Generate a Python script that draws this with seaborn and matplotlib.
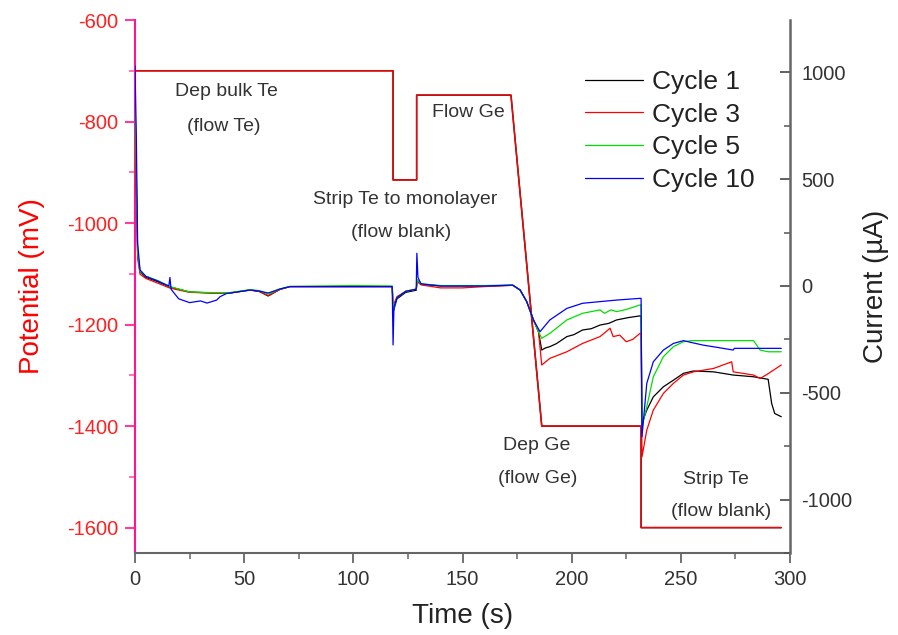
import numpy as np
import pandas as pd
import matplotlib
matplotlib.use("Agg")
import matplotlib.pyplot as plt
import seaborn as sns
from matplotlib.ticker import MultipleLocator

# ---------------- data ----------------
# Applied potential program (mV) vs time (s)
pot_time = [0, 118.2, 118.2, 129.0, 129.0, 172.2, 186.3, 231.8, 231.8, 296.0]
pot_mv = [-700, -700, -915, -915, -748, -748, -1400, -1400, -1600, -1600]

# Current (uA) vs time (s) for each cycle
c1_t = [0, 0.6, 1.2, 2.3, 5, 10, 16, 25, 35, 43.5, 52.7, 57, 61, 66.4, 71, 100, 117.8,
        118.3, 120, 124, 128.8, 129.3, 131, 140, 160, 173, 176.4, 179.4, 182.5, 184.8,
        186.3, 188, 190, 193, 197.8, 201, 205, 209, 213, 217, 220.6, 226, 231.3, 231.8,
        232.2, 234.4, 237.4, 242, 246.6, 251.2, 255.8, 265, 274, 283.3, 290, 291.6, 293, 296]
c1_i = [880, 500, 150, 67, 40, 22, -5, -28, -33, -33, -19, -26, -47, -16, -3, -3, -3,
        -120, -60, -30, -20, 25, 8, 0, 0, 3, -19, -73, -159, -214,
        -300, -290, -284, -270, -237, -228, -206, -200, -183, -175, -159, -148, -140, -140,
        -642, -581, -519, -472, -441, -409, -398, -402, -417, -425, -437, -550, -597, -612]

c3_t = [0, 0.6, 1.2, 2.3, 5, 10, 16, 25, 35, 43.5, 52.7, 57, 61, 66.4, 71, 100, 117.8,
        118.3, 120, 124, 128.8, 129.3, 131, 140, 150, 160, 173, 176.4, 179.4, 182.5, 184.8,
        186.3, 190, 197.8, 205, 213, 217.6, 219, 222, 225, 228, 231.3, 231.8,
        232.2, 234.4, 237.4, 242, 246.6, 251.2, 255.8, 265, 273.3, 274, 279, 283.3, 286.3,
        289.3, 296]
c3_i = [850, 450, 130, 55, 35, 15, -10, -30, -33, -33, -19, -26, -45, -16, -3, -3, -3,
        -90, -50, -25, -15, 20, 5, -9, -9, -3, 3, -19, -73, -159, -214,
        -370, -339, -308, -269, -237, -198, -237, -230, -261, -250, -222, -222,
        -800, -675, -581, -503, -456, -417, -402, -386, -355, -402, -410, -417, -433,
        -415, -370]

c5_t = [0, 0.6, 1.2, 2.3, 5, 10, 16, 25, 35, 43.5, 52.7, 57, 61, 66.4, 71, 100, 117.8,
        118.3, 120, 124, 128.8, 129.3, 131, 140, 160, 173, 176.4, 179.4, 182.5, 184.8,
        186.3, 190, 197.8, 205, 213, 215, 218, 220.6, 225, 231.3, 231.8,
        232.2, 234.4, 237.4, 242, 246.6, 251.2, 255, 283.3, 286.3, 290, 296]
c5_i = [900, 550, 160, 70, 45, 27, -3, -28, -31, -31, -17, -22, -38, -14, -2, 2, 0,
        -110, -55, -25, -15, 30, 10, 2, 2, 4, -19, -73, -159, -214,
        -245, -222, -159, -128, -112, -128, -112, -120, -110, -89, -89,
        -660, -565, -425, -331, -284, -261, -256, -256, -300, -308, -308]

c10_t = [0, 0.6, 1.2, 2.3, 5, 10, 15.5, 16, 16.5, 20, 25, 30, 33, 37.4, 39, 42, 43.5,
         52.7, 57, 61, 66.4, 71, 100, 117.8, 118.2, 118.6, 120, 124, 128.8, 129.1, 129.6,
         131, 140, 160, 173, 176.4, 179.4, 182.5, 185.5, 190, 197.8, 205, 220.6, 231.3,
         231.8, 232.2, 234.4, 237.4, 242, 246.6, 251.2, 255, 260.3, 267, 274, 274.5, 296]
c10_i = [1030, 700, 200, 75, 45, 25, 0, 40, -15, -60, -78, -70, -80, -66, -50, -35, -33,
         -19, -24, -33, -14, -3, -3, -3, -276, -100, -55, -25, -15, 153, 40,
         10, 0, 0, 4, -19, -73, -159, -214, -159, -105, -81, -66, -58,
         -58, -706, -456, -355, -300, -269, -256, -265, -277, -288, -300, -292, -292]

cycle_names = ["Cycle 1", "Cycle 3", "Cycle 5", "Cycle 10"]
cycle_colors = ["#000000", "#ff0000", "#00e000", "#0000ff"]

# ---------------- figure ----------------
sns.set_style("ticks")
plt.rcParams["font.family"] = ["Liberation Sans", "DejaVu Sans"]
plt.rcParams["axes.unicode_minus"] = False
plt.rcParams.update({
    "xtick.bottom": True, "ytick.left": True,
    "xtick.major.size": 7, "ytick.major.size": 7,
    "xtick.minor.size": 4, "ytick.minor.size": 4,
    "xtick.major.width": 1.3, "ytick.major.width": 1.3,
    "xtick.minor.width": 1.1, "ytick.minor.width": 1.1,
})

fig = plt.figure(figsize=(8.98, 6.35), dpi=100)
ax = fig.add_axes([135 / 898, 1 - 553 / 635, 655 / 898, 533 / 635])
ax2 = ax.twinx()

frames = []
for name, t, i in zip(cycle_names, [c1_t, c3_t, c5_t, c10_t], [c1_i, c3_i, c5_i, c10_i]):
    frames.append(pd.DataFrame({"time": t, "current": i, "cycle": name}))
df = pd.concat(frames, ignore_index=True)

pot_df = pd.DataFrame({"time": pot_time, "potential": pot_mv})

# potential (left axis)
sns.lineplot(data=pot_df, x="time", y="potential", ax=ax, color="#222222",
             linewidth=1.15, estimator=None, sort=False)
sns.lineplot(data=pot_df, x="time", y="potential", ax=ax, color="#ff0000",
             linewidth=1.0, estimator=None, sort=False)

# currents (right axis)
sns.lineplot(data=df, x="time", y="current", hue="cycle", hue_order=cycle_names,
             palette=dict(zip(cycle_names, cycle_colors)), ax=ax2, linewidth=0.9,
             estimator=None, sort=False, units="cycle", legend=False)

# axes limits / ticks
ax.set_xlim(0, 300)
ax.set_ylim(-1650, -600)
ax2.set_ylim(-1250, 1245)

ax.xaxis.set_major_locator(MultipleLocator(50))
ax.xaxis.set_minor_locator(MultipleLocator(25))
ax.yaxis.set_major_locator(MultipleLocator(200))
ax.yaxis.set_minor_locator(MultipleLocator(100))
ax2.yaxis.set_major_locator(MultipleLocator(500))
ax2.yaxis.set_minor_locator(MultipleLocator(250))

left_col = "#ff1493"
gray = "#666666"
ax.spines["top"].set_visible(False)
ax2.spines["top"].set_visible(False)
ax.spines["left"].set_color(left_col)
ax.spines["left"].set_linewidth(1.5)
ax.spines["bottom"].set_color(gray)
ax.spines["bottom"].set_linewidth(1.5)
ax2.spines["right"].set_color(gray)
ax2.spines["right"].set_linewidth(1.8)
ax2.spines["left"].set_visible(False)
ax2.spines["bottom"].set_visible(False)
ax.spines["right"].set_visible(False)

ax.tick_params(axis="x", which="major", direction="out", length=7, width=1.3,
               color=gray, labelsize=14.5, labelcolor="#333333", pad=5,
               bottom=True, top=False)
ax.tick_params(axis="x", which="minor", direction="out", length=4, width=1.1,
               color=gray, bottom=True, top=False)
ax.tick_params(axis="y", which="major", direction="out", length=7, width=1.5,
               color="#ff3c9e", labelsize=14.5, labelcolor="#ff2020", pad=5,
               left=True, right=False)
ax.tick_params(axis="y", which="minor", direction="out", length=4, width=1.2,
               color="#ff5aa8", left=True, right=False)
ax2.tick_params(axis="y", which="major", direction="in", length=7, width=1.3,
                color="#555555", labelsize=14.5, labelcolor="#333333", pad=8,
                right=True, left=False)
ax2.tick_params(axis="y", which="minor", direction="in", length=4, width=1.1,
                color="#555555", right=True, left=False)

ax.set_xlabel("Time (s)", fontsize=20, color="#222222", labelpad=10)
ax.set_ylabel("Potential (mV)", fontsize=20, color="#ff0000", labelpad=16)
ax2.set_ylabel("Current (\u00b5A)", fontsize=20, color="#222222", labelpad=8)

# annotations
txt_kw = dict(fontsize=14, color="#333333", ha="center", va="center")
ax.text(42.1, -741, "Dep bulk Te", **txt_kw)
ax.text(40.8, -809, "(flow Te)", **txt_kw)
ax.text(152.9, -783, "Flow Ge", **txt_kw)
ax.text(123.7, -954, "Strip Te to monolayer", **txt_kw)
ax.text(121.8, -1019, "(flow blank)", **txt_kw)
ax.text(183.9, -1439, "Dep Ge", **txt_kw)
ax.text(184.6, -1504, "(flow Ge)", **txt_kw)
ax.text(265.9, -1505, "Strip Te", **txt_kw)
ax.text(268.3, -1568, "(flow blank)", **txt_kw)

# legend
handles = [plt.Line2D([], [], color=c, linewidth=0.9) for c in cycle_colors]
leg = ax2.legend(handles, cycle_names, loc="upper left",
                 bbox_to_anchor=(585 / 898, 1 - 70 / 635), bbox_transform=fig.transFigure,
                 frameon=False, fontsize=19, handlelength=2.2, handletextpad=0.35,
                 labelspacing=0.33, borderpad=0, borderaxespad=0)
for t in leg.get_texts():
    t.set_color("#222222")

fig.savefig("out.png", dpi=100)
